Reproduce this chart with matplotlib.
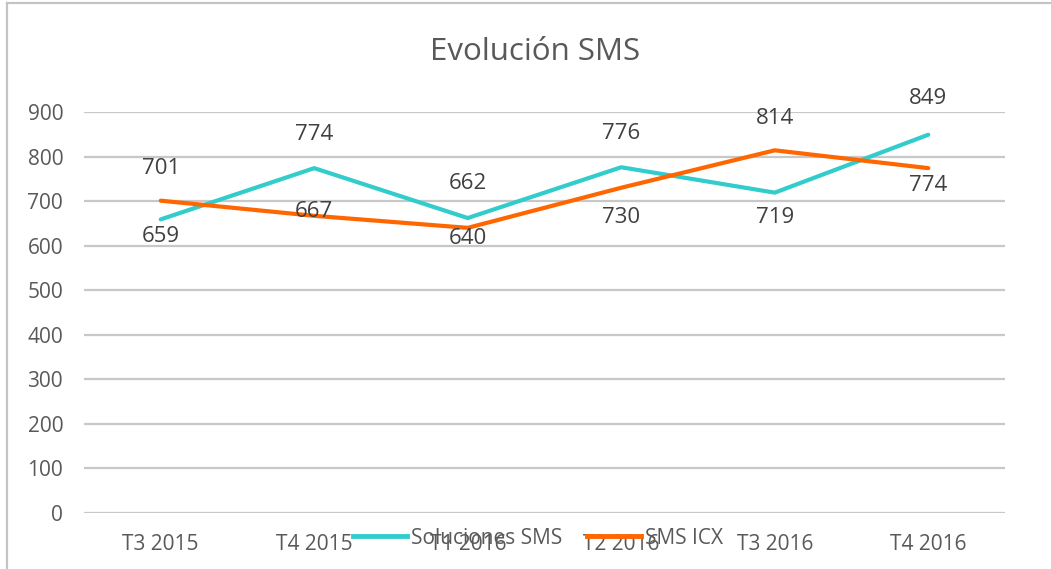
import matplotlib.pyplot as plt
from matplotlib.lines import Line2D

categories = ["T3 2015", "T4 2015", "T1 2016", "T2 2016", "T3 2016", "T4 2016"]
soluciones_sms = [659, 774, 662, 776, 719, 849]
sms_icx = [701, 667, 640, 730, 814, 774]
y_ticks = [0, 100, 200, 300, 400, 500, 600, 700, 800, 900]

# label offsets in pixels (positive = up), Excel moved them around to avoid clashes
sol_offsets = [-17, 34, 35, 34, -25, 36]
icx_offsets = [32, 4, -11, -30, 32, -17]

TURQ = "#33CCCC"
ORANGE = "#FF6600"
FONT = "Open Sans"

W, H = 1051, 569
fig = plt.figure(figsize=(W / 100, H / 100), dpi=100)
fig.patch.set_facecolor("white")

# outer chart frame (left and top edges visible)
fig.add_artist(Line2D([7 / W, 7 / W], [0, 1 - 3 / H], color="#c4c4c4", lw=1.6, transform=fig.transFigure))
fig.add_artist(Line2D([7 / W, 1], [1 - 3 / H, 1 - 3 / H], color="#c4c4c4", lw=1.6, transform=fig.transFigure))

left, right, bottom, top = 84, 1005, 513, 112
ax = fig.add_axes([left / W, 1 - bottom / H, (right - left) / W, (bottom - top) / H])

x = list(range(len(categories)))
ax.plot(x, soluciones_sms, color=TURQ, lw=3, solid_capstyle="round", zorder=3)
ax.plot(x, sms_icx, color=ORANGE, lw=3, solid_capstyle="round", zorder=3)

for xi, v, off in zip(x, soluciones_sms, sol_offsets):
    ax.annotate(str(v), (xi, v), xytext=(0, off), textcoords="offset pixels",
                ha="center", va="center", fontsize=16, color="#404040",
                family=FONT, annotation_clip=False, zorder=4)
for xi, v, off in zip(x, sms_icx, icx_offsets):
    ax.annotate(str(v), (xi, v), xytext=(0, off), textcoords="offset pixels",
                ha="center", va="center", fontsize=16, color="#404040",
                family=FONT, annotation_clip=False, zorder=4)

ax.set_xlim(-0.5, len(categories) - 0.5)
ax.set_ylim(0, 900)
ax.set_yticks(y_ticks)
ax.set_xticks(x)
ax.set_xticklabels(categories)
ax.grid(axis="y", color="#c8c8c8", lw=1.6)
ax.set_axisbelow(True)
for s in ax.spines.values():
    s.set_visible(False)
ax.tick_params(axis="both", length=0, labelsize=15, labelcolor="#595959")
ax.tick_params(axis="y", pad=15)
ax.tick_params(axis="x", pad=15)
for lab in ax.get_xticklabels() + ax.get_yticklabels():
    lab.set_family(FONT)

fig.text(535 / W, 1 - 52 / H, "Evolución SMS", ha="center", va="center",
         fontsize=22.5, color="#595959", family=FONT)

handles = [Line2D([], [], color=TURQ, lw=3.5), Line2D([], [], color=ORANGE, lw=3.5)]
fig.legend(handles, ["Soluciones SMS", "SMS ICX"], loc="center",
           bbox_to_anchor=(538 / W, 1 - 538 / H), ncol=2, frameon=False,
           prop={"family": FONT, "size": 15}, labelcolor="#595959",
           handlelength=2.6, handletextpad=0.2, columnspacing=1.2)

fig.savefig("out.png", dpi=100, facecolor="white")
